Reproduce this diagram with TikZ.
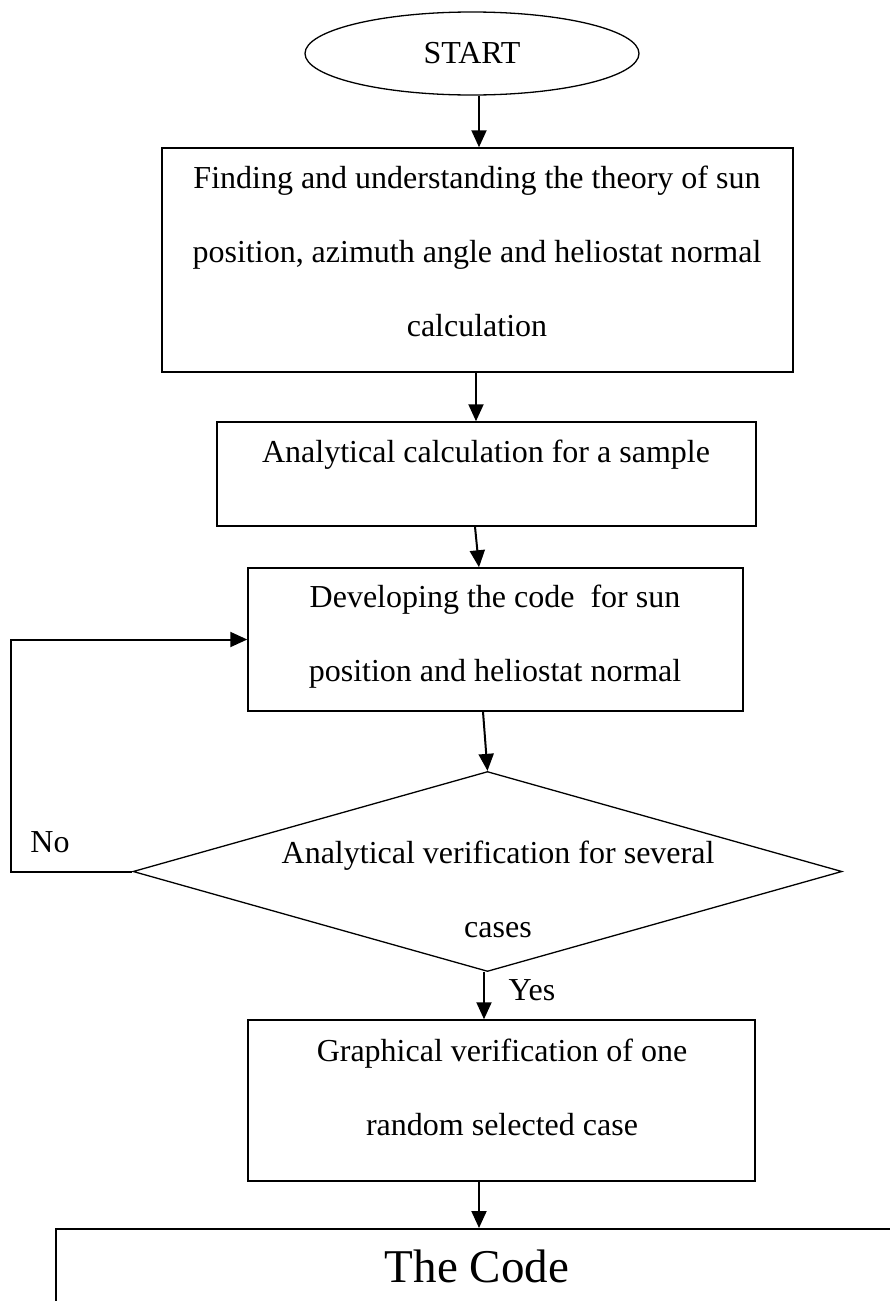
\documentclass[tikz,border=0pt]{standalone}
\usepackage{fontspec}
\setmainfont{Liberation Serif}
\usetikzlibrary{shapes.geometric,arrows.meta}

\begin{document}
\begin{tikzpicture}[x=1pt, y=-1pt,
		box/.style={draw, line width=1.5pt, inner sep=0pt},
		txt/.style={font=\fontsize{32}{74}\selectfont, align=center, inner sep=0pt},
		arr/.style={-{Triangle[length=17pt,width=15pt]}, line width=2pt}]
	% Page frame, same size as the original
	\useasboundingbox (0,0) rectangle (890,1301);
	
	% Start
	\node[ellipse, draw, line width=1.3pt, minimum width=334pt, minimum height=83pt, inner sep=0pt,
		font=\fontsize{32}{38}\selectfont] (start) at (472,53.5) {START};
	
	% Boxes of the flow
	\node[box, minimum width=631pt, minimum height=224pt] (find) at (477.5,260) {};
	\node[box, minimum width=539pt, minimum height=104pt] (calc) at (486.5,474) {};
	\node[box, minimum width=495pt, minimum height=143pt] (dev) at (495.5,639.5) {};
	\node[diamond, draw, line width=1.3pt, minimum width=709pt, minimum height=200pt, inner sep=0pt] (check) at (487.5,871.5) {};
	\node[box, minimum width=507pt, minimum height=161pt] (graph) at (501.5,1100.5) {};
	\node[box, anchor=north west, minimum width=900pt, minimum height=200pt] (code) at (55,1228) {};
	
	% Texts
	\node[txt] (findtxt) at (477,251) {Finding and understanding the theory of sun\\position, azimuth angle and heliostat normal\\calculation};
	\node[txt] (calctxt) at (486,455) {Analytical calculation for a sample};
	\node[txt] (devtxt) at (495,637) {Developing the code\ \ for sun\\position and heliostat normal};
	\node[txt] (checktxt) at (498,889) {Analytical verification for several\\cases};
	\node[txt] (graphtxt) at (502,1087) {Graphical verification of one\\random selected case};
	\node[txt, font=\fontsize{47}{56}\selectfont] (codetxt) at (477,1266) {The Code};
	\node[txt] (no) at (50,842) {No};
	\node[txt] (yes) at (532,990) {Yes};
	
	% Arrows
	\draw[arr] ([xshift=7pt]start.south) -- ([xshift=1.5pt]find.north);
	\draw[arr] ([xshift=-1.5pt]find.south) -- ([xshift=-10.5pt]calc.north);
	\draw[arr] ([xshift=-11.5pt]calc.south) -- ([xshift=-16.5pt]dev.north);
	\draw[arr] ([xshift=-12.5pt]dev.south) -- (check.north);
	\draw[arr] ([xshift=-3.5pt]check.south) -- ([xshift=-17.5pt]graph.north);
	\draw[arr] ([xshift=-22.5pt]graph.south) -- ([xshift=-22.5pt]graph.south |- code.north);
	
	% Back to the code when the check fails
	\draw[arr] (check.west) -- ++(-121,0) |- (dev.west);
\end{tikzpicture}
\end{document}
